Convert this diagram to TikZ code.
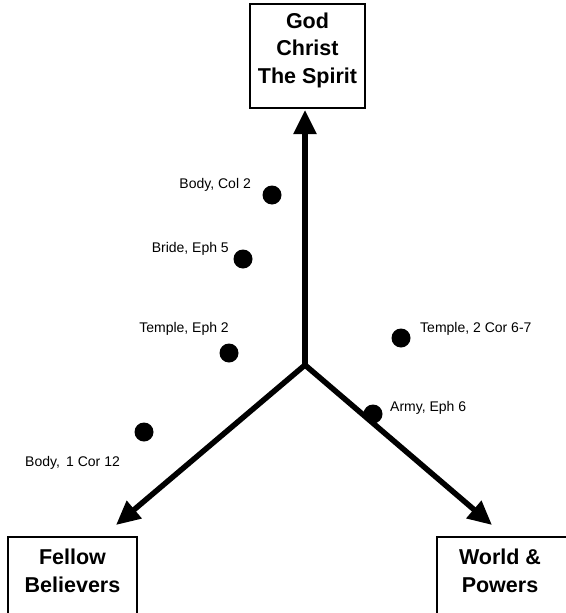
\documentclass[tikz,border=0pt]{standalone}
\usepackage{fontspec}
\setmainfont{Liberation Sans}
\usetikzlibrary{arrows.meta}
\tikzset{
  boxnode/.style={draw=black, line width=1.2pt, fill=white, inner sep=0pt},
  boxtext/.style={font=\fontsize{21.5}{27.5}\selectfont\bfseries, align=center, inner sep=0pt},
  axis/.style={line width=5.5pt, -{Triangle[length=24pt, width=22pt]}},
  dot/.style={circle, fill=black, minimum size=19pt, inner sep=0pt},
  lbl/.style={font=\fontsize{14}{16}\selectfont, inner sep=0pt}
}
\begin{document}
\begin{tikzpicture}[x=1pt, y=-1pt]
\useasboundingbox (0,0) rectangle (565,613);
% boxes
\node[boxnode, minimum width=115pt, minimum height=104pt] (god) at (307.5,56) {};
\node[boxtext] (godtext) at (307.5,50) {God\\Christ\\The Spirit};
\node[boxnode, minimum width=129pt, minimum height=110pt] (fellow) at (72.5,592) {};
\node[boxtext] (fellowtext) at (72.5,571) {Fellow\\Believers};
\node[boxnode, minimum width=130pt, minimum height=110pt] (world) at (502,592) {};
\node[boxtext] (worldtext) at (500,571) {World \&\\Powers};
% axes
\coordinate (c) at (305,365);
\coordinate (tipup) at (305,110);
\coordinate (tipleft) at (116,525);
\coordinate (tipright) at (492,525);
\draw[axis] (c) -- (tipup);
\draw[axis] (c) -- (tipleft);
\draw[axis] (c) -- (tipright);
\fill (c) circle (2.75pt);
% dots
\node[dot] (d1) at (272,195) {};
\node[dot] (d2) at (243,259) {};
\node[dot] (d3) at (229,353) {};
\node[dot] (d4) at (144,432) {};
\node[dot] (d5) at (401,338) {};
\node[dot] (d6) at (373,414) {};
% labels
\node[lbl, anchor=base east] (l1) at (251,188) {Body, Col 2};
\node[lbl, anchor=base east] (l2) at (229,252) {Bride, Eph 5};
\node[lbl, anchor=base east] (l3) at (229,332) {Temple, Eph 2};
\node[lbl, anchor=base west] (l4) at (25,466) {Body,\, 1 Cor 12};
\node[lbl, anchor=base west] (l5) at (420,332) {Temple, 2 Cor 6-7};
\node[lbl, anchor=base west] (l6) at (390,411) {Army, Eph 6};
\end{tikzpicture}
\end{document}
